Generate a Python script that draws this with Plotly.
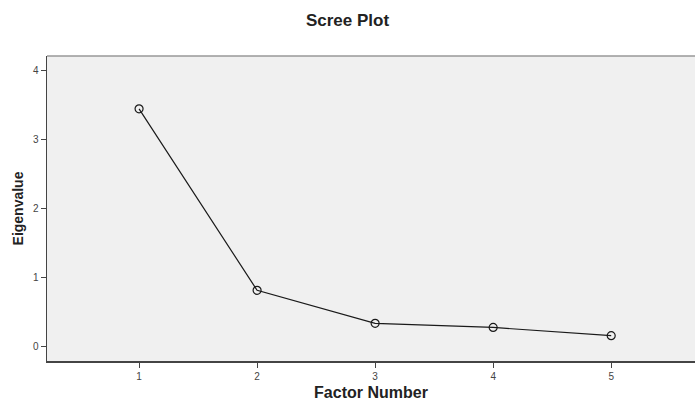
import plotly.graph_objects as go

factors = [1, 2, 3, 4, 5]
eigenvalues = [3.45, 0.81, 0.33, 0.27, 0.15]
x_ticks = [1, 2, 3, 4, 5]
y_ticks = [0, 1, 2, 3, 4]

fig = go.Figure()
fig.add_trace(go.Scatter(
    x=factors, y=eigenvalues, mode="lines+markers",
    line=dict(color="#1a1a1a", width=1.2),
    marker=dict(symbol="circle-open", size=8, color="#1a1a1a", line=dict(width=1.2)),
    showlegend=False, hoverinfo="skip",
))

fam = "Liberation Sans, Arial, sans-serif"
axis_font = dict(family=fam, size=10, color="#444444")

fig.update_layout(
    width=695, height=401,
    margin=dict(l=47, r=0, t=56, b=40),
    paper_bgcolor="white",
    plot_bgcolor="#f0f0f0",
    title=dict(text="<b>Scree Plot</b>", x=0.5, xanchor="center", y=1 - 20/401, yanchor="middle",
               font=dict(family=fam, size=17, color="#222222")),
    xaxis=dict(
        range=[0.22, 5.71], tickmode="array", tickvals=x_ticks, ticktext=[str(t) for t in x_ticks],
        showgrid=False, zeroline=False, showline=True, linecolor="#444444", linewidth=1.5,
        ticks="outside", ticklen=5, tickcolor="#444444", tickfont=axis_font,
        title=dict(text="<b>Factor Number</b>", font=dict(family=fam, size=16, color="#222222"), standoff=8),
    ),
    yaxis=dict(
        range=[-0.218, 4.218], tickmode="array", tickvals=y_ticks, ticktext=[str(t) for t in y_ticks],
        showgrid=False, zeroline=False, showline=True, linecolor="#444444", linewidth=1.5,
        ticks="outside", ticklen=5, tickcolor="#444444", tickfont=axis_font,
        title=dict(text="<b>Eigenvalue</b>", font=dict(family=fam, size=14, color="#222222"), standoff=6),
    ),
    shapes=[dict(type="line", xref="paper", yref="paper", x0=0, x1=1, y0=1, y1=1,
                 line=dict(color="#999999", width=1.5))],
)

fig.write_html("out.html", config={"displayModeBar": False, "staticPlot": True},
               post_script="document.body.style.margin='0';document.body.style.overflow='hidden';")
